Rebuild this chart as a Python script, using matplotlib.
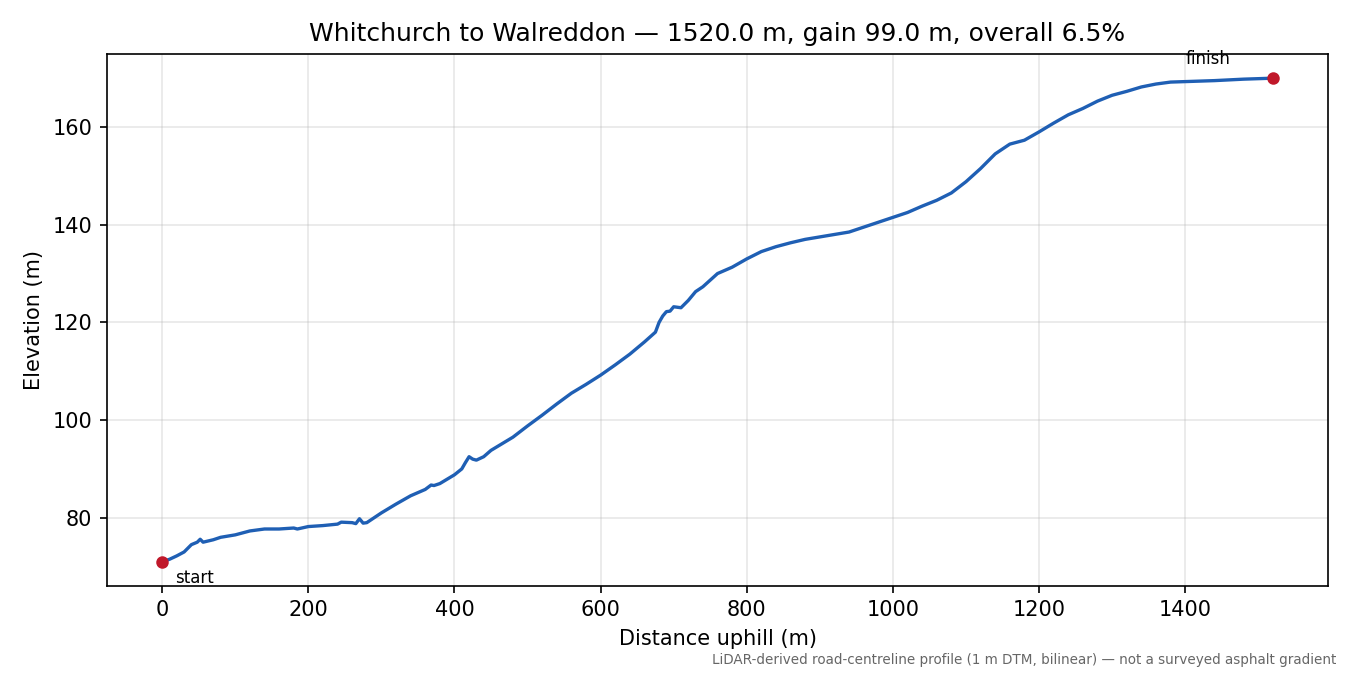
import numpy as np
import matplotlib.pyplot as plt

# profile (distance m, elevation m)
dist = [0, 10, 20, 30, 40, 48, 52, 56, 70, 80, 100, 120, 140, 160, 180, 185, 200, 220,
        240, 245, 260, 265, 270, 275, 280, 290, 300, 320, 340, 360, 368, 372, 380, 400,
        410, 415, 420, 425, 430, 440, 450, 460, 480, 500, 520, 540, 560, 580, 600, 620,
        640, 660, 675, 680, 685, 690, 695, 700, 710, 720, 730, 740, 760, 780, 800, 820,
        840, 860, 880, 900, 920, 940, 960, 980, 1000, 1020, 1040, 1060, 1080, 1100,
        1120, 1140, 1160, 1180, 1200, 1220, 1240, 1260, 1280, 1300, 1320, 1340, 1360,
        1380, 1400, 1440, 1480, 1520]
elev = [71.0, 71.5, 72.2, 73.0, 74.5, 75.0, 75.6, 75.0, 75.5, 76.0, 76.5, 77.3, 77.7,
        77.7, 77.9, 77.7, 78.2, 78.4, 78.7, 79.1, 79.0, 78.8, 79.8, 78.9, 79.0, 80.0,
        81.0, 82.8, 84.5, 85.8, 86.7, 86.6, 87.0, 88.8, 90.0, 91.3, 92.5, 92.0, 91.8,
        92.5, 93.8, 94.7, 96.5, 98.8, 101.0, 103.3, 105.5, 107.3, 109.2, 111.3, 113.5,
        116.0, 118.0, 120.0, 121.3, 122.2, 122.3, 123.2, 123.0, 124.5, 126.3, 127.3,
        130.0, 131.3, 133.0, 134.5, 135.5, 136.3, 137.0, 137.5, 138.0, 138.5, 139.5,
        140.5, 141.5, 142.5, 143.8, 145.0, 146.5, 148.8, 151.5, 154.5, 156.5, 157.3,
        159.0, 160.8, 162.5, 163.8, 165.3, 166.5, 167.3, 168.2, 168.8, 169.2, 169.3,
        169.5, 169.8, 170.0]

fig, ax = plt.subplots(figsize=(9, 4.5), dpi=150)
ax.plot(dist, elev, color='#1f5fb4', lw=1.6)
ax.plot([dist[0], dist[-1]], [elev[0], elev[-1]], 'o', color='#c0182a', ms=5)
ax.annotate('start', (dist[0], elev[0]), xytext=(6, -10), textcoords='offset points', fontsize=8)
ax.annotate('finish', (dist[-1], elev[-1]), xytext=(-42, 7), textcoords='offset points', fontsize=8)
ax.grid(alpha=0.3)
ax.set_xlabel('Distance uphill (m)')
ax.set_ylabel('Elevation (m)')
ax.set_title('Whitchurch to Walreddon — 1520.0 m, gain 99.0 m, overall 6.5%')
fig.text(0.99, 0.012, 'LiDAR-derived road-centreline profile (1 m DTM, bilinear) — not a surveyed asphalt gradient',
         ha='right', va='bottom', fontsize=6.5, color='#666666')
plt.subplots_adjust(left=0.079, right=0.984, top=0.92, bottom=0.132)
plt.savefig('out.png')
